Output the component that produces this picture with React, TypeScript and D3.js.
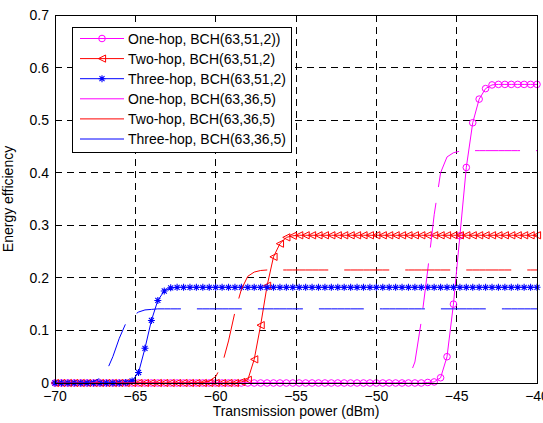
import { useEffect, useRef } from 'react';
import * as d3 from 'd3';

// transmission power grid (dBm), step 0.4
const power = [
  -70, -69.6, -69.2, -68.8, -68.4, -68, -67.6, -67.2, -66.8, -66.4,
  -66, -65.6, -65.2, -64.8, -64.4, -64, -63.6, -63.2, -62.8, -62.4,
  -62, -61.6, -61.2, -60.8, -60.4, -60, -59.6, -59.2, -58.8, -58.4,
  -58, -57.6, -57.2, -56.8, -56.4, -56, -55.6, -55.2, -54.8, -54.4,
  -54, -53.6, -53.2, -52.8, -52.4, -52, -51.6, -51.2, -50.8, -50.4,
  -50, -49.6, -49.2, -48.8, -48.4, -48, -47.6, -47.2, -46.8, -46.4,
  -46, -45.6, -45.2, -44.8, -44.4, -44, -43.6, -43.2, -42.8, -42.4,
  -42, -41.6, -41.2, -40.8, -40.4, -40,
];

// BCH(63,51,2)
const oneHop51 = [
  0, 0, 0, 0, 0, 0, 0, 0, 0, 0,
  0, 0, 0, 0, 0, 0, 0, 0, 0, 0,
  0, 0, 0, 0, 0, 0, 0, 0, 0, 0,
  0, 0, 0, 0, 0, 0, 0, 0, 0, 0,
  0, 0, 0, 0, 0, 0, 0, 0, 0, 0,
  0, 0, 0, 0, 0, 0, 0, 0, 0.001, 0.002,
  0.01, 0.05, 0.15, 0.28, 0.41, 0.495, 0.54, 0.56, 0.567, 0.568,
  0.568, 0.568, 0.568, 0.568, 0.568, 0.568,
];
const twoHop51 = [
  0, 0, 0, 0, 0, 0, 0, 0, 0, 0,
  0, 0, 0, 0, 0, 0, 0, 0, 0, 0,
  0, 0, 0, 0, 0, 0, 0, 0, 0, 0.002,
  0.006, 0.045, 0.11, 0.185, 0.24, 0.265, 0.277, 0.28, 0.281, 0.281,
  0.281, 0.281, 0.281, 0.281, 0.281, 0.281, 0.281, 0.281, 0.281, 0.281,
  0.281, 0.281, 0.281, 0.281, 0.281, 0.281, 0.281, 0.281, 0.281, 0.281,
  0.281, 0.281, 0.281, 0.281, 0.281, 0.281, 0.281, 0.281, 0.281, 0.281,
  0.281, 0.281, 0.281, 0.281, 0.281, 0.281,
];
const threeHop51 = [
  0, 0, 0, 0, 0, 0, 0, 0, 0, 0,
  0, 0.001, 0.004, 0.02, 0.066, 0.119, 0.157, 0.175, 0.181, 0.182,
  0.182, 0.182, 0.182, 0.182, 0.182, 0.182, 0.182, 0.182, 0.182, 0.182,
  0.182, 0.182, 0.182, 0.182, 0.182, 0.182, 0.182, 0.182, 0.182, 0.182,
  0.182, 0.182, 0.182, 0.182, 0.182, 0.182, 0.182, 0.182, 0.182, 0.182,
  0.182, 0.182, 0.182, 0.182, 0.182, 0.182, 0.182, 0.182, 0.182, 0.182,
  0.182, 0.182, 0.182, 0.182, 0.182, 0.182, 0.182, 0.182, 0.182, 0.182,
  0.182, 0.182, 0.182, 0.182, 0.182, 0.182,
];

// BCH(63,36,5)
const oneHop36 = [
  0, 0, 0, 0, 0, 0, 0, 0, 0, 0,
  0, 0, 0, 0, 0, 0, 0, 0, 0, 0,
  0, 0, 0, 0, 0, 0, 0, 0, 0, 0,
  0, 0, 0, 0, 0, 0, 0, 0, 0, 0,
  0, 0, 0, 0, 0, 0, 0, 0, 0, 0,
  0, 0, 0, 0, 0.001, 0.008, 0.04, 0.118, 0.215, 0.32,
  0.4, 0.43, 0.438, 0.441, 0.442, 0.442, 0.442, 0.442, 0.442, 0.442,
  0.442, 0.442, 0.442, 0.442, 0.442, 0.442,
];
const twoHop36 = [
  0, 0, 0, 0, 0, 0, 0, 0, 0, 0,
  0, 0, 0, 0, 0, 0, 0, 0, 0, 0,
  0, 0, 0, 0.001, 0.004, 0.012, 0.035, 0.08, 0.135, 0.178,
  0.203, 0.211, 0.214, 0.215, 0.215, 0.215, 0.215, 0.215, 0.215, 0.215,
  0.215, 0.215, 0.215, 0.215, 0.215, 0.215, 0.215, 0.215, 0.215, 0.215,
  0.215, 0.215, 0.215, 0.215, 0.215, 0.215, 0.215, 0.215, 0.215, 0.215,
  0.215, 0.215, 0.215, 0.215, 0.215, 0.215, 0.215, 0.215, 0.215, 0.215,
  0.215, 0.215, 0.215, 0.215, 0.215, 0.215,
];
const threeHop36 = [
  0, 0, 0, 0, 0, 0.001, 0.003, 0.009, 0.022, 0.05,
  0.085, 0.113, 0.127, 0.135, 0.139, 0.14, 0.141, 0.141, 0.141, 0.141,
  0.141, 0.141, 0.141, 0.141, 0.141, 0.141, 0.141, 0.141, 0.141, 0.141,
  0.141, 0.141, 0.141, 0.141, 0.141, 0.141, 0.141, 0.141, 0.141, 0.141,
  0.141, 0.141, 0.141, 0.141, 0.141, 0.141, 0.141, 0.141, 0.141, 0.141,
  0.141, 0.141, 0.141, 0.141, 0.141, 0.141, 0.141, 0.141, 0.141, 0.141,
  0.141, 0.141, 0.141, 0.141, 0.141, 0.141, 0.141, 0.141, 0.141, 0.141,
  0.141, 0.141, 0.141, 0.141, 0.141, 0.141,
];

const xTicks = [-70, -65, -60, -55, -50, -45, -40];
const yTicks = [0, 0.1, 0.2, 0.3, 0.4, 0.5, 0.6, 0.7];

const series = [
  { name: 'One-hop, BCH(63,51,2))', values: oneHop51, color: '#ff00ff', marker: 'circle', dashed: false },
  { name: 'Two-hop, BCH(63,51,2)', values: twoHop51, color: '#ff0000', marker: 'triangle', dashed: false },
  { name: 'Three-hop, BCH(63,51,2)', values: threeHop51, color: '#0000ff', marker: 'star', dashed: false },
  { name: 'One-hop, BCH(63,36,5)', values: oneHop36, color: '#ff00ff', marker: null, dashed: true },
  { name: 'Two-hop, BCH(63,36,5)', values: twoHop36, color: '#ff0000', marker: null, dashed: true },
  { name: 'Three-hop, BCH(63,36,5)', values: threeHop36, color: '#0000ff', marker: null, dashed: true },
];

const FONT = '"Liberation Sans", Arial, sans-serif';

function drawMarker(g, kind, x, y, color) {
  if (kind === 'circle') {
    g.append('circle').attr('cx', x).attr('cy', y).attr('r', 3.3)
      .attr('fill', 'none').attr('stroke', color).attr('stroke-width', 1);
  } else if (kind === 'triangle') {
    const s = 3.6;
    g.append('path')
      .attr('d', `M${x - s},${y} L${x + s},${y - s} L${x + s},${y + s} Z`)
      .attr('fill', 'none').attr('stroke', color).attr('stroke-width', 1);
  } else if (kind === 'star') {
    const s = 3.5;
    const d = s * 0.72;
    g.append('path')
      .attr('d', `M${x - s},${y} L${x + s},${y} M${x},${y - s} L${x},${y + s} M${x - d},${y - d} L${x + d},${y + d} M${x - d},${y + d} L${x + d},${y - d}`)
      .attr('stroke', color).attr('stroke-width', 1.1);
  }
}

export default function App() {
  const svgRef = useRef(null);

  useEffect(() => {
    const svg = d3.select(svgRef.current);
    svg.selectAll('*').remove();

    const margin = { top: 15, right: 6, bottom: 40, left: 55 };
    const W = 543, H = 423;
    const width = W - margin.left - margin.right;
    const height = H - margin.top - margin.bottom;

    const g = svg.append('g')
      .attr('transform', `translate(${margin.left},${margin.top})`);

    const x = d3.scaleLinear().domain([-70, -40]).range([0, width]);
    const y = d3.scaleLinear().domain([0, 0.7]).range([height, 0]);

    g.append('rect').attr('width', width).attr('height', height).attr('fill', '#fff');

    // grid
    const grid = g.append('g').attr('stroke', '#000').attr('stroke-width', 1)
      .attr('stroke-dasharray', '7,5').attr('shape-rendering', 'crispEdges');
    xTicks.slice(1, -1).forEach(t => {
      grid.append('line').attr('x1', x(t)).attr('x2', x(t)).attr('y1', 0).attr('y2', height);
    });
    yTicks.slice(1, -1).forEach(t => {
      grid.append('line').attr('y1', y(t)).attr('y2', y(t)).attr('x1', 0).attr('x2', width);
    });

    // series
    const line = d3.line().x((d, i) => x(power[i])).y(d => y(d));
    series.forEach(s => {
      const sg = g.append('g');
      sg.append('path')
        .datum(s.values)
        .attr('d', line)
        .attr('fill', 'none')
        .attr('stroke', s.color)
        .attr('stroke-width', 1)
        .attr('stroke-dasharray', s.dashed ? '45,16' : null);
      if (s.marker) {
        s.values.forEach((v, i) => drawMarker(sg, s.marker, x(power[i]), y(v), s.color));
      }
    });

    // axes box with inward ticks
    const axes = g.append('g').attr('shape-rendering', 'crispEdges');
    axes.append('rect').attr('width', width).attr('height', height)
      .attr('fill', 'none').attr('stroke', '#000');
    const tl = 5;
    xTicks.forEach(t => {
      axes.append('line').attr('x1', x(t)).attr('x2', x(t)).attr('y1', height).attr('y2', height - tl).attr('stroke', '#000');
      axes.append('line').attr('x1', x(t)).attr('x2', x(t)).attr('y1', 0).attr('y2', tl).attr('stroke', '#000');
    });
    yTicks.forEach(t => {
      axes.append('line').attr('y1', y(t)).attr('y2', y(t)).attr('x1', 0).attr('x2', tl).attr('stroke', '#000');
      axes.append('line').attr('y1', y(t)).attr('y2', y(t)).attr('x1', width).attr('x2', width - tl).attr('stroke', '#000');
    });

    const labels = g.append('g').attr('font-family', FONT).attr('font-size', 14).attr('fill', '#000');
    xTicks.forEach(t => {
      labels.append('text').attr('x', x(t)).attr('y', height + 18)
        .attr('text-anchor', 'middle').text(d3.format('d')(t));
    });
    yTicks.forEach(t => {
      labels.append('text').attr('x', -6).attr('y', y(t) + 5)
        .attr('text-anchor', 'end').text(t === 0 ? '0' : d3.format('.1f')(t));
    });
    labels.append('text').attr('x', width / 2).attr('y', height + 33)
      .attr('text-anchor', 'middle').text('Transmission power (dBm)');
    labels.append('text')
      .attr('transform', `translate(${-42},${height / 2}) rotate(-90)`)
      .attr('text-anchor', 'middle').text('Energy efficiency');

    // legend
    const lg = g.append('g').attr('transform', 'translate(17,12)');
    const rowH = 20.1;
    const legendW = 219;
    lg.append('rect').attr('width', legendW).attr('height', 125.5)
      .attr('fill', '#fff').attr('stroke', '#000').attr('shape-rendering', 'crispEdges');
    series.forEach((s, i) => {
      const cy = 11.5 + i * rowH;
      lg.append('line').attr('x1', 8).attr('x2', 52).attr('y1', cy).attr('y2', cy)
        .attr('stroke', s.color).attr('stroke-width', 1);
      if (s.marker) drawMarker(lg, s.marker, 30, cy, s.color);
      lg.append('text').attr('x', 56).attr('y', cy + 5)
        .attr('font-family', FONT).attr('font-size', 14).text(s.name);
    });
  }, []);

  return (
    <svg
      ref={svgRef}
      width={543}
      height={423}
      style={{ position: 'absolute', left: 0, top: 0, background: '#fff' }}
    />
  );
}
